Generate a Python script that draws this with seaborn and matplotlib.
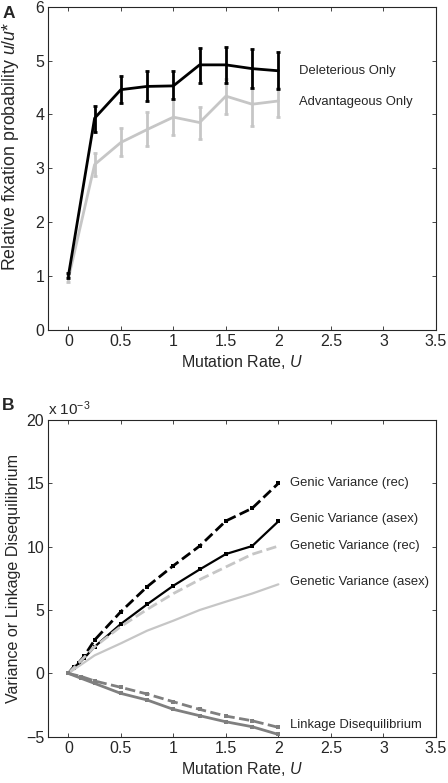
import numpy as np
import pandas as pd
import seaborn as sns
import matplotlib.pyplot as plt

# ---------------- data: panel A ----------------
u_a = [0, 0.25, 0.5, 0.75, 1.0, 1.25, 1.5, 1.75, 2.0]
del_mean = [1.0, 3.93, 4.46, 4.52, 4.53, 4.92, 4.92, 4.85, 4.81]
del_lo = [0.97, 3.67, 4.22, 4.25, 4.29, 4.58, 4.59, 4.50, 4.47]
del_hi = [1.05, 4.16, 4.71, 4.81, 4.80, 5.24, 5.25, 5.21, 5.15]
adv_mean = [0.95, 3.07, 3.48, 3.72, 3.95, 3.85, 4.34, 4.19, 4.25]
adv_lo = [0.90, 2.86, 3.22, 3.42, 3.62, 3.54, 4.01, 3.79, 3.96]
adv_hi = [1.00, 3.29, 3.75, 4.04, 4.28, 4.14, 4.66, 4.50, 4.50]

# ---------------- data: panel B (x 10^-3) ----------------
u_b = [0, 0.05, 0.1, 0.15, 0.25, 0.5, 0.75, 1.0, 1.25, 1.5, 1.75, 2.0]
genic_rec = [0, 0.5, 0.85, 1.35, 2.63, 4.87, 6.84, 8.5, 10.05, 12.03, 13.03, 15.0]
genic_asex = [0, 0.45, 0.8, 1.2, 2.1, 3.9, 5.45, 6.92, 8.2, 9.42, 10.05, 12.0]
u_c = [0, 0.25, 0.5, 0.75, 1.0, 1.25, 1.5, 1.75, 2.0]
genet_rec = [0, 2.1, 3.7, 5.05, 6.3, 7.4, 8.4, 9.4, 10.05]
genet_asex = [0, 1.42, 2.37, 3.37, 4.16, 5.0, 5.66, 6.3, 7.03]
u_ld = [0, 0.125, 0.25, 0.5, 0.75, 1.0, 1.25, 1.5, 1.75, 2.0]
ld_rec = [0, -0.25, -0.6, -1.1, -1.63, -2.24, -2.84, -3.37, -3.74, -4.26]
ld_asex = [0, -0.4, -0.79, -1.58, -2.1, -2.84, -3.34, -3.82, -4.21, -4.82]

sns.set_style("ticks")
plt.rcParams['font.family'] = ['Liberation Sans', 'DejaVu Sans']
plt.rcParams['mathtext.fontset'] = 'custom'
plt.rcParams['mathtext.rm'] = 'Liberation Sans'
plt.rcParams['mathtext.it'] = 'Liberation Sans:italic'
plt.rcParams['xtick.direction'] = 'in'
plt.rcParams['ytick.direction'] = 'in'
plt.rcParams['xtick.top'] = True
plt.rcParams['ytick.right'] = True

fig = plt.figure(figsize=(4.48, 7.83), dpi=100)
axA = fig.add_axes([0.108, 0.5785, 0.865, 0.413])
axB = fig.add_axes([0.108, 0.0591, 0.865, 0.4045])

black = "#000000"
light = "#c6c6c6"
mid = "#7f7f7f"
dash = (2.8, 1.6)

# ---------------- panel A ----------------
dfA = pd.DataFrame({"U": u_a + u_a,
                    "val": del_mean + adv_mean,
                    "kind": ["del"] * len(u_a) + ["adv"] * len(u_a)})
sns.lineplot(data=dfA, x="U", y="val", hue="kind", palette={"del": black, "adv": light},
             hue_order=["adv", "del"], linewidth=2, legend=False, ax=axA)
for m, lo, hi, c in [(adv_mean, adv_lo, adv_hi, light), (del_mean, del_lo, del_hi, black)]:
    m = np.array(m)
    axA.errorbar(u_a, m, yerr=[m - np.array(lo), np.array(hi) - m], fmt="none",
                 ecolor=c, elinewidth=2, capsize=1.5, capthick=2)
axA.text(2.2, 4.8, "Deleterious Only", fontsize=9.4, va="center")
axA.text(2.2, 4.24, "Advantageous Only", fontsize=9.4, va="center")
axA.set_xlim(-0.19, 3.5)
axA.set_ylim(0, 6)
axA.set_xticks([0, 0.5, 1, 1.5, 2, 2.5, 3, 3.5])
axA.set_xticklabels(["0", "0.5", "1", "1.5", "2", "2.5", "3", "3.5"])
axA.set_yticks(range(0, 7))
axA.set_xlabel("Mutation Rate, $\\it{U}$", fontsize=11.5, labelpad=3)
axA.set_ylabel("Relative fixation probability $\\it{u/u}$*", fontsize=12.8)
axA.yaxis.set_label_coords(-0.071, 0.567)
fig.text(0.005, 1 - 18 / 783, "A", fontsize=12.5, fontweight="bold", va="baseline")

# ---------------- panel B ----------------
sns.lineplot(x=u_b, y=genic_rec, color=black, linestyle="--", dashes=dash, linewidth=2,
             marker="s", markersize=3, markeredgewidth=0, ax=axB)
sns.lineplot(x=u_b, y=genic_asex, color=black, linewidth=1.6,
             marker="s", markersize=2.5, markeredgewidth=0, ax=axB)
sns.lineplot(x=u_c, y=genet_rec, color=light, linestyle="--", dashes=dash, linewidth=2, ax=axB)
sns.lineplot(x=u_c, y=genet_asex, color=light, linewidth=1.6, ax=axB)
sns.lineplot(x=u_ld, y=ld_rec, color=mid, linestyle="--", dashes=dash, linewidth=2,
             marker="s", markersize=3, markeredgewidth=0, ax=axB)
sns.lineplot(x=u_ld, y=ld_asex, color=mid, linewidth=2,
             marker="s", markersize=3, markeredgewidth=0, ax=axB)
for y, s in [(15.0, "Genic Variance (rec)"), (12.16, "Genic Variance (asex)"),
             (10.08, "Genetic Variance (rec)"), (7.18, "Genetic Variance (asex)"),
             (-4.08, "Linkage Disequilibrium")]:
    axB.text(2.11, y, s, fontsize=9.4, va="center")
axB.set_xlim(-0.19, 3.5)
axB.set_ylim(-5, 20)
axB.set_xticks([0, 0.5, 1, 1.5, 2, 2.5, 3, 3.5])
axB.set_xticklabels(["0", "0.5", "1", "1.5", "2", "2.5", "3", "3.5"])
axB.set_yticks([-5, 0, 5, 10, 15, 20])
axB.set_yticklabels(["\u22125", "0", "5", "10", "15", "20"])
axB.set_xlabel("Mutation Rate, $\\it{U}$", fontsize=11.5, labelpad=3)
axB.set_ylabel("Variance or Linkage Disequilibrium", fontsize=11.6)
axB.yaxis.set_label_coords(-0.071, 0.5)
axB.text(0.0, 1.005, "x 10$^{-3}$", transform=axB.transAxes, fontsize=11, va="bottom")
fig.text(0.005, 1 - 410 / 783, "B", fontsize=12.5, fontweight="bold", va="baseline")

for ax in (axA, axB):
    ax.tick_params(labelsize=11.5, length=3, width=0.6, pad=3)
    for sp in ax.spines.values():
        sp.set_linewidth(0.8)

fig.savefig("out.png", dpi=100)
